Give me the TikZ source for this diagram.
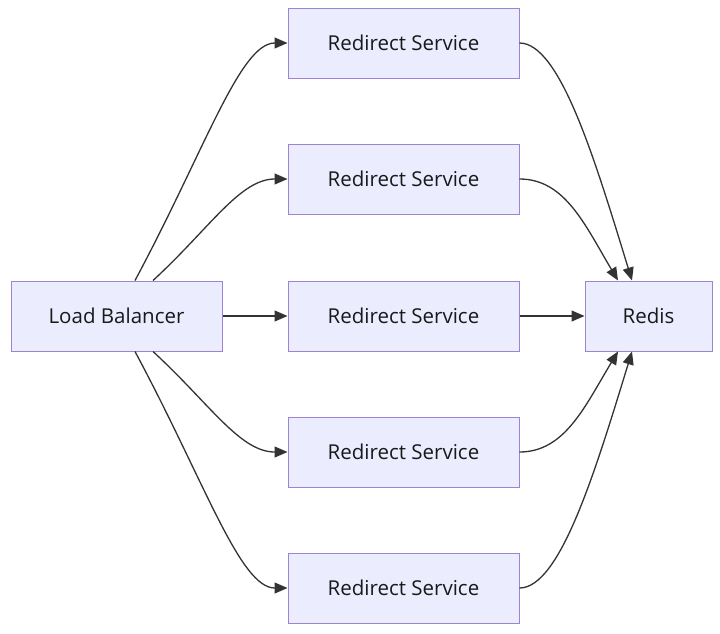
\documentclass[tikz,border=0pt]{standalone}
\usepackage{fontspec}
\setmainfont{Open Sans}
\usetikzlibrary{arrows.meta}
\definecolor{boxfill}{HTML}{ECECFF}
\definecolor{boxline}{HTML}{9C84D4}
\definecolor{edge}{HTML}{333333}
\tikzset{
  box/.style={draw=boxline, fill=boxfill, line width=1pt, minimum height=70pt, inner sep=0pt, font=\fontsize{20.5}{24}\selectfont, text=black!90},
  conn/.style={draw=edge, line width=1.3pt, -{Triangle[length=13pt,width=11pt]}}
}
\begin{document}
\begin{tikzpicture}[x=1pt,y=-1pt]
\useasboundingbox (0,0) rectangle (720,633);
\node[box, minimum width=211pt] (lb) at (116.5,316) {Load Balancer};
\node[box, minimum width=231pt] (r1) at (403.5,43) {Redirect Service};
\node[box, minimum width=231pt] (r2) at (403.5,179) {Redirect Service};
\node[box, minimum width=231pt] (r3) at (403.5,316) {Redirect Service};
\node[box, minimum width=231pt] (r4) at (403.5,452) {Redirect Service};
\node[box, minimum width=231pt] (r5) at (403.5,588) {Redirect Service};
\node[box, minimum width=127pt] (rd) at (648.5,316) {Redis};
% left side
\draw[conn] ([xshift=18.5]lb.north) .. controls (205,150) and (240,43) .. (r1.west);
\draw[conn] ([xshift=36.5]lb.north) .. controls (210,228) and (240,179) .. (r2.west);
\draw[conn] (lb.east) -- (r3.west);
\draw[conn] ([xshift=36.5]lb.south) .. controls (210,404) and (240,452) .. (r4.west);
\draw[conn] ([xshift=18.5]lb.south) .. controls (205,482) and (240,588) .. (r5.west);
% right side
\draw[conn] (r1.east) .. controls (560,43) and (595,160) .. ([xshift=-16.5]rd.north);
\draw[conn] (r2.east) .. controls (565,179) and (585,225) .. ([xshift=-30.5]rd.north);
\draw[conn] (r3.east) -- (rd.west);
\draw[conn] (r4.east) .. controls (565,452) and (585,406) .. ([xshift=-30.5]rd.south);
\draw[conn] (r5.east) .. controls (560,588) and (595,472) .. ([xshift=-16.5]rd.south);
\end{tikzpicture}
\end{document}
